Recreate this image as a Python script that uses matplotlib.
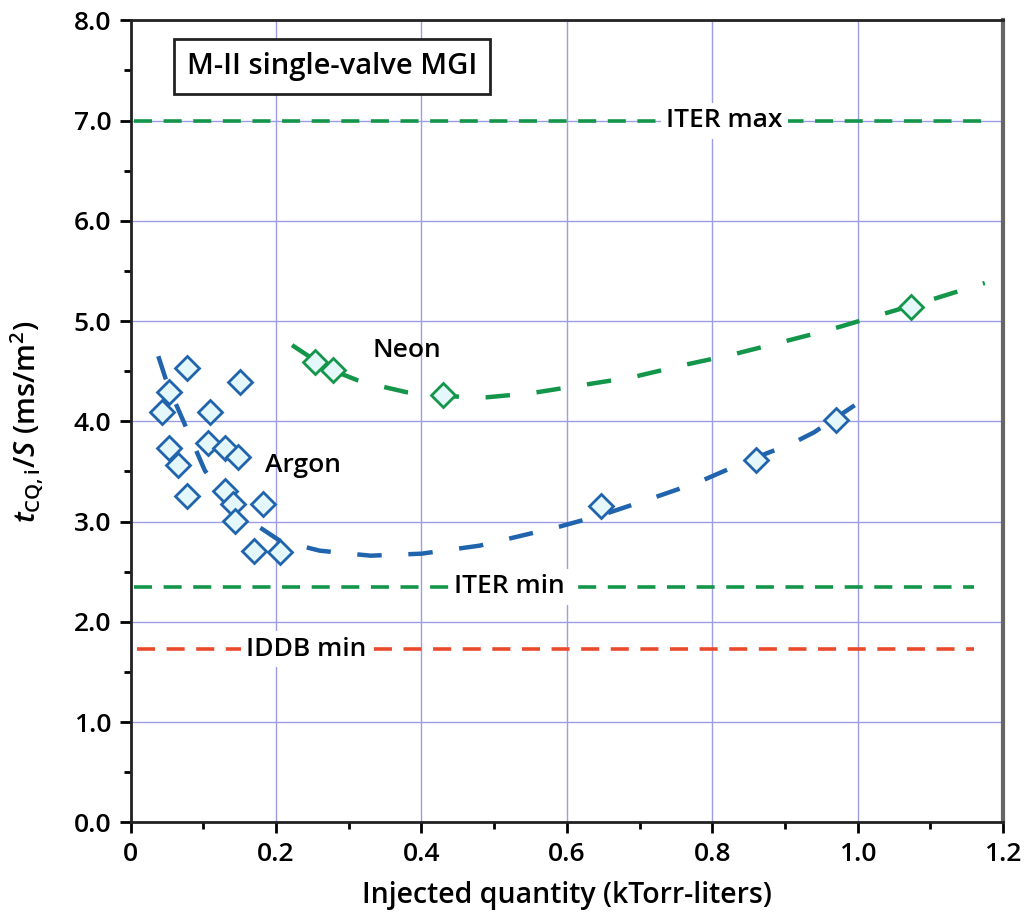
import matplotlib
matplotlib.use("Agg")
import matplotlib.pyplot as plt
from matplotlib.ticker import MultipleLocator

plt.rcParams['font.family'] = ['Open Sans', 'DejaVu Sans']
plt.rcParams['font.weight'] = 'semibold'
plt.rcParams['axes.labelweight'] = 'semibold'
plt.rcParams['mathtext.fontset'] = 'custom'
plt.rcParams['mathtext.rm'] = 'Open Sans:semibold'
plt.rcParams['mathtext.it'] = 'Open Sans:italic:semibold'

# argon shots (blue diamonds)
argon_x = [0.043, 0.053, 0.077, 0.053, 0.065, 0.077, 0.107, 0.109, 0.130, 0.150,
           0.148, 0.130, 0.141, 0.143, 0.182, 0.169, 0.205, 0.647, 0.860, 0.970]
argon_y = [4.09, 4.29, 4.53, 3.73, 3.56, 3.26, 3.78, 4.09, 3.73, 4.39,
           3.64, 3.31, 3.18, 3.01, 3.18, 2.71, 2.70, 3.16, 3.61, 4.01]

# neon shots (green diamonds)
neon_x = [0.253, 0.278, 0.429, 1.074]
neon_y = [4.59, 4.51, 4.26, 5.14]

# dashed trend curves
argon_fit_x = [0.038, 0.051, 0.075, 0.102, 0.136, 0.178, 0.205, 0.26, 0.33, 0.40,
               0.48, 0.59, 0.65, 0.72, 0.78, 0.85, 0.91, 0.94, 0.996]
argon_fit_y = [4.65, 4.36, 3.96, 3.51, 3.16, 2.94, 2.81, 2.71, 2.66, 2.68,
               2.76, 2.95, 3.07, 3.24, 3.39, 3.61, 3.78, 3.89, 4.16]
neon_fit_x = [0.222, 0.27, 0.312, 0.35, 0.38, 0.43, 0.49, 0.55, 0.62, 0.69,
              0.76, 0.83, 0.89, 0.96, 1.03, 1.10, 1.175]
neon_fit_y = [4.76, 4.53, 4.41, 4.34, 4.29, 4.25, 4.24, 4.28, 4.36, 4.44,
              4.56, 4.67, 4.78, 4.91, 5.06, 5.21, 5.38]

# reference levels
iter_max = 7.0
iter_min = 2.35
iddb_min = 1.725

xticks = [0, 0.2, 0.4, 0.6, 0.8, 1.0, 1.2]
xlabels = ['0', '0.2', '0.4', '0.6', '0.8', '1.0', '1.2']

blue = '#1f64ad'
green = '#14964a'
red = '#ea4a2c'
face = '#e4f8fc'
grid_c = '#9d9de6'

fig = plt.figure(figsize=(10.25, 9.24), dpi=100)
ax = fig.add_axes([0.1275, 0.110, 0.851, 0.868])

ax.set_xlim(0, 1.2)
ax.set_ylim(0, 8.0)
ax.set_xticks(xticks)
ax.set_xticklabels(xlabels)
ax.set_yticks(range(0, 9))
ax.set_yticklabels(['%.1f' % v for v in range(0, 9)])
ax.xaxis.set_minor_locator(MultipleLocator(0.1))
ax.yaxis.set_minor_locator(MultipleLocator(0.5))
ax.tick_params(which='major', direction='out', length=8, width=2, labelsize=19, pad=6)
ax.tick_params(which='minor', direction='out', length=5, width=2)
ax.grid(True, which='major', color=grid_c, lw=1.0)
ax.set_axisbelow(True)
for s in ['left', 'bottom', 'top']:
    ax.spines[s].set_linewidth(2)
    ax.spines[s].set_color('#222222')
ax.spines['right'].set_linewidth(3)
ax.spines['right'].set_color('#666666')

# horizontal limits
ax.plot([0.005, 1.177], [iter_max, iter_max], color=green, lw=2.6, dashes=(5, 3.2), zorder=2)
ax.plot([0.005, 1.16], [iter_min, iter_min], color=green, lw=2.6, dashes=(5, 3.2), zorder=2)
ax.plot([0.008, 1.16], [iddb_min, iddb_min], color=red, lw=2.6, dashes=(5, 3.2), zorder=2)

lbl = dict(fontsize=19, ha='center', va='center', zorder=3,
           bbox=dict(facecolor='white', edgecolor='none', pad=4))
ax.text(0.817, iter_max, 'ITER max', **lbl)
ax.text(0.521, iter_min, 'ITER min', **lbl)
ax.text(0.242, iddb_min, 'IDDB min', **lbl)

# fits
ax.plot(argon_fit_x, argon_fit_y, color=blue, lw=3.2, dashes=(5.5, 6), zorder=4)
ax.plot(neon_fit_x, neon_fit_y, color=green, lw=3.2, dashes=(5.5, 6), zorder=4)

# data
ax.plot(argon_x, argon_y, 'D', ms=12, mfc=face, mec=blue, mew=2, ls='none', zorder=5)
ax.plot(neon_x, neon_y, 'D', ms=12, mfc=face, mec=green, mew=2, ls='none', zorder=5)

ax.text(0.185, 3.56, 'Argon', fontsize=19, ha='left', va='center', zorder=6)
ax.text(0.332, 4.71, 'Neon', fontsize=19, ha='left', va='center', zorder=6)

ax.text(0.277, 7.54, 'M-II single-valve MGI', fontsize=21, ha='center', va='center', zorder=6,
        bbox=dict(facecolor='white', edgecolor='#222222', lw=2, boxstyle='square,pad=0.45'))

ax.set_xlabel('Injected quantity (kTorr-liters)', fontsize=20.5, labelpad=10)
ax.set_ylabel(r'$t_{\mathrm{CQ,i}}/S$ (ms/m$^2$)', fontsize=21, labelpad=20)

fig.savefig('out.png', dpi=100)
